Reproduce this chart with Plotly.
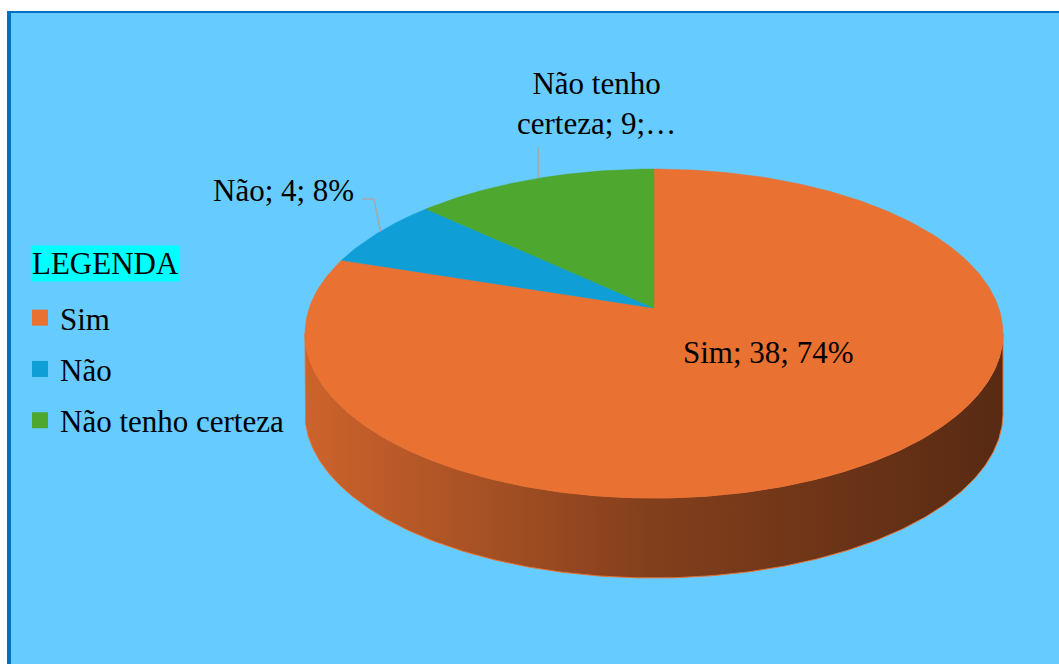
import numpy as np
import plotly.graph_objects as go

# ---------------- data ----------------
categories = ["Sim", "Não", "Não tenho certeza"]
values = [38, 4, 9]
label_texts = ["Sim; 38; 74%", "Não; 4; 8%", "Não tenho<br>certeza; 9;…"]
colors = ["#E97132", "#0F9ED5", "#4EA72E"]

# ---------------- geometry / style ----------------
W, H = 1059, 664
CX, CY, RX, RY = 654, 333.5, 349, 164.5   # apparent ellipse of the top face (px)
DEPTH = 80                                # thickness of the 3D pie (px)
P = 0.47                                  # perspective strength
APEX_V = 0.155                            # apex offset (fraction of RY, upward)
FONT = "Liberation Serif"
BG = "#66CCFF"
FRAME = "#0070C0"

total = sum(values)
cum = np.concatenate([[0], np.cumsum(values)]) / total * 360.0


def rim(theta_deg):
    t = np.radians(np.asarray(theta_deg, dtype=float))
    d = 1 + P * np.cos(t)
    u = np.sin(t) * np.sqrt(1 - P ** 2) / d
    v = (np.cos(t) + P) / d
    return CX + RX * u, CY - RY * v


def shade(hex_color, f):
    h = hex_color.lstrip("#")
    r, g, b = (int(h[i:i + 2], 16) for i in (0, 2, 4))
    return "#%02X%02X%02X" % (int(r * f), int(g * f), int(b * f))


fig = go.Figure()

# side walls (front half only)
lo = np.degrees(np.arccos(-P))
hi = 360 - lo
for i, c in enumerate(colors):
    a0, a1 = max(cum[i], lo), min(cum[i + 1], hi)
    if a1 <= a0:
        continue
    th = np.linspace(a0, a1, 300)
    xs, ys = rim(th)
    X = list(xs) + list(xs[::-1]) + [xs[0]]
    Y = list(ys) + list((ys + DEPTH)[::-1]) + [ys[0]]
    fig.add_trace(go.Scatter(
        x=X, y=Y, mode="lines", fill="toself",
        fillgradient=dict(type="horizontal",
                          colorscale=[[0, shade(c, 0.88)], [0.5, shade(c, 0.56)], [1, shade(c, 0.38)]]),
        line=dict(color=c, width=1), hoverinfo="skip", showlegend=False))

# top face slices
apex_x, apex_y = CX, CY - RY * APEX_V
for i, c in enumerate(colors):
    th = np.linspace(cum[i], cum[i + 1], 300)
    xs, ys = rim(th)
    X = [apex_x] + list(xs) + [apex_x]
    Y = [apex_y] + list(ys) + [apex_y]
    fig.add_trace(go.Scatter(
        x=X, y=Y, mode="lines", fill="toself", fillcolor=c,
        line=dict(color=c, width=0.5), hoverinfo="skip", showlegend=False))

# legend entries
for cat, c in zip(categories, colors):
    fig.add_trace(go.Scatter(
        x=[None], y=[None], mode="markers", name=cat, legendgroup=cat,
        marker=dict(symbol="square", size=16, color=c)))

# data labels
mid = [(cum[i] + cum[i + 1]) / 2 for i in range(len(values))]
mx, my = rim(mid)

fig.add_annotation(x=768, y=352, xref="x", yref="y", text=label_texts[0],
                   showarrow=False, font=dict(family=FONT, size=31, color="black"))
fig.add_annotation(x=356, y=190, xref="x", yref="y", text=label_texts[1], xanchor="right",
                   showarrow=False, font=dict(family=FONT, size=31, color="black"))
fig.add_annotation(x=596, y=103, xref="x", yref="y", text=label_texts[2],
                   showarrow=False, font=dict(family=FONT, size=31, color="black"))

# leader lines
fig.add_shape(type="path", xref="x", yref="y",
              path=f"M 362 199 L 374 199 L {mx[1]:.1f} {my[1]:.1f}",
              line=dict(color="#A6A6A6", width=1.5))
fig.add_shape(type="line", xref="x", yref="y",
              x0=mx[2], y0=147, x1=mx[2], y1=my[2],
              line=dict(color="#A6A6A6", width=1.5))

# legend heading
fig.add_annotation(x=31, y=263, xref="x", yref="y", text="LEGENDA", xanchor="left",
                   showarrow=False, bgcolor="#00FFFF", borderpad=0,
                   font=dict(family=FONT, size=31, color="black"))

# frame
fig.add_shape(type="rect", xref="x", yref="y", x0=8, y0=12, x1=W + 20, y1=H + 20,
              fillcolor=BG, line=dict(color=FRAME, width=2), layer="below")
fig.add_shape(type="line", xref="x", yref="y", x0=9, y0=11, x1=9, y1=H + 20,
              line=dict(color=FRAME, width=4), layer="below")

fig.update_layout(
    width=W, height=H,
    margin=dict(l=0, r=0, t=0, b=0),
    paper_bgcolor="white", plot_bgcolor="rgba(0,0,0,0)",
    xaxis=dict(visible=False, range=[0, W], fixedrange=True),
    yaxis=dict(visible=False, range=[H, 0], fixedrange=True),
    showlegend=True,
    legend=dict(x=20 / W, y=1 - 291 / H, xanchor="left", yanchor="top",
                font=dict(family=FONT, size=31, color="black"),
                bgcolor="rgba(0,0,0,0)", tracegroupgap=8, itemwidth=30),
)

fig.write_html(
    "out.html",
    config={"displayModeBar": False},
    post_script="document.body.style.margin='0';document.body.style.overflow='hidden';",
)
